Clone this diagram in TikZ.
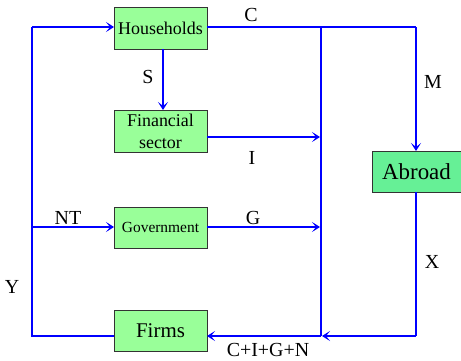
\documentclass[tikz,border=0pt]{standalone}
\usepackage{fontspec}
\setmainfont{Liberation Serif}
\usetikzlibrary{arrows.meta}
\definecolor{boxgreen}{RGB}{153,255,153}
\definecolor{abroadgreen}{RGB}{102,240,150}
\definecolor{flowblue}{RGB}{0,0,255}
\begin{document}
\begin{tikzpicture}[x=1bp,y=-1bp,
  box/.style={draw=black!80, line width=1bp, fill=boxgreen, minimum width=93bp, minimum height=42bp, inner sep=0pt, align=center},
  flow/.style={draw=flowblue, line width=2.4bp},
  arr/.style={flow, -{Stealth[length=8bp,width=10bp,inset=4bp]}},
  lbl/.style={font=\fontsize{20}{24}\selectfont, inner sep=0pt}
]
\useasboundingbox (0,0) rectangle (461,360);
% boxes
\node[box, font=\fontsize{18}{22}\selectfont] (hh) at (160.5,28) {Households};
\node[box, font=\fontsize{18}{22}\selectfont] (fin) at (160.5,131) {Financial\\sector};
\node[box, font=\fontsize{15.5}{18}\selectfont, minimum height=41bp] (gov) at (160.5,227.5) {Government};
\node[box, font=\fontsize{21}{24}\selectfont, minimum height=41bp] (firms) at (160.5,330.5) {Firms};
\node[box, fill=abroadgreen, font=\fontsize{23}{26}\selectfont, minimum width=89bp, minimum height=41bp] (abroad) at (416.5,171.5) {Abroad};
% coordinates
\coordinate (jtop) at (321,27);
\coordinate (jbot) at (321,336);
\coordinate (rtop) at (416,27);
\coordinate (rbot) at (416,336);
\coordinate (ltop) at (32,27);
\coordinate (lbot) at (32,336);
\coordinate (lgov) at (32,227);
\coordinate (finout) at (207,137);
\coordinate (govout) at (207,227);
\coordinate (hhout) at (207,27);
\coordinate (firmsin) at (207,336);
\coordinate (firmsout) at (114,336);
\coordinate (hhin) at (114,27);
\coordinate (govin) at (114,227);
\coordinate (hhs) at (163,49);
\coordinate (finn) at (163,110);
\coordinate (abs) at (416,192);
\coordinate (abn) at (416,151);
% flows
\draw[flow] (hhout) -- (rtop);
\draw[arr] (rtop) -- (abn);
\draw[flow] (jtop) -- (jbot);
\draw[arr] (finout) -- ([xshift=-1bp]jtop |- finout);
\draw[arr] (govout) -- ([xshift=-1bp]jtop |- govout);
\draw[arr] (hhs) -- (finn);
\draw[flow] (abs) -- (rbot);
\draw[arr] (rbot) -- ([xshift=1bp]jbot);
\draw[arr] (jbot) -- (firmsin);
\draw[flow] (firmsout) -- (lbot) -- (ltop);
\draw[arr] (ltop) -- (hhin);
\draw[arr] (lgov) -- (govin);
% labels
\node[lbl] (lC) at (251,15) {C};
\node[lbl] (lS) at (148,77) {S};
\node[lbl] (lI) at (252,158) {I};
\node[lbl] (lM) at (433,82) {M};
\node[lbl] (lNT) at (68,218) {NT};
\node[lbl] (lG) at (253,218) {G};
\node[lbl] (lY) at (12,287) {Y};
\node[lbl] (lX) at (432,262) {X};
\node[lbl] (lsum) at (268,350) {C+I+G+N};
\end{tikzpicture}
\end{document}
